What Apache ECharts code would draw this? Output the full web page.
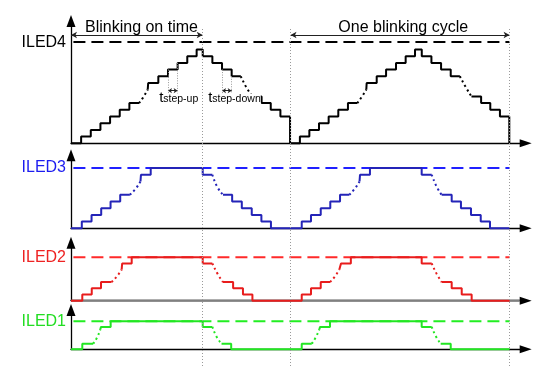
<!DOCTYPE html>
<html><head><meta charset="utf-8">
<script src="https://cdn.jsdelivr.net/npm/echarts@6/dist/echarts.min.js"></script>
<style>html,body{margin:0;padding:0;background:#fff}#c{width:547px;height:366px}</style>
</head><body><div id="c"></div>
<script>
// ---------- DATA (time in step units, level in step units) ----------
const channelNames = ['ILED4', 'ILED3', 'ILED2', 'ILED1'];
const fullLevels = [15.1, 9, 7, 5];
const markerTimes = [13.65, 22.75, 45.45]; // end of on-time, cycle start, cycle end

const iled4Solid = [
  [[0,0],[1.05,1],[2.05,2],[3.05,3],[4.05,4],[5.05,5],[6.05,6],[7.05,6]],
  [[7.95,8],[8,9],[9.05,10],[10.05,11],[11.05,12],[12.05,13],[13.02,14],[13.65,13],[14.65,12],[15.65,11],[16.65,10],[17.6,10]],
  [[18.77,7],[19.75,6],[20.7,5],[21.7,4],[22.7,0],[23.72,1],[24.7,2],[25.7,3],[26.7,4],[27.7,5],[28.7,6],[29.67,6]],
  [[30.6,8],[30.64,9],[31.68,10],[32.65,11],[33.68,12],[34.68,13],[35.65,14],[36.35,13],[37.35,12],[38.35,11],[39.35,10],[40.3,10]],
  [[41.5,7],[42.5,6],[43.45,5],[44.45,4],[45.42,0],[45.45,0]]
];
const iled4Dotted = [
  [[7.05,6],[7.5,6.9],[7.95,8]],
  [[17.6,10],[18.15,8.4],[18.77,7]],
  [[29.67,6],[30.12,6.9],[30.6,8]],
  [[40.3,10],[40.9,8.4],[41.5,7]]
];

const iled3Solid = [
  [[0,0],[1.12,1],[2.13,2],[3.13,3],[4.1,4],[5.1,5],[6.1,5]],
  [[7.2,7],[7.25,8],[8.26,9],[13.65,8],[14.65,8]],
  [[15.75,5],[16.7,4],[17.7,3],[18.73,2],[19.73,1],[20.72,0],[23.91,1],[24.87,2],[25.88,3],[26.87,4],[27.88,5],[28.84,5]],
  [[29.9,7],[29.95,8],[30.98,9],[36.34,8],[37.38,8]],
  [[38.41,5],[39.45,4],[40.41,3],[41.45,2],[42.46,1],[43.42,0],[45.45,0]]
];
const iled3Dotted = [
  [[6.1,5],[6.7,5.9],[7.2,7]],
  [[14.65,8],[15.15,6.2],[15.75,5]],
  [[28.84,5],[29.4,5.9],[29.9,7]],
  [[37.38,8],[37.9,6.2],[38.41,5]]
];

const iled2Solid = [
  [[0,0],[1.17,1],[2.15,2],[3.11,3],[4.2,3]],
  [[5.25,5],[5.3,6],[6.29,7],[13.65,6],[14.65,6]],
  [[15.75,3],[16.8,2],[17.82,1],[18.8,0],[23.91,1],[24.87,2],[25.88,3],[26.85,3]],
  [[27.8,5],[27.98,6],[29.0,7],[36.34,6],[37.38,6]],
  [[38.41,3],[39.45,2],[40.49,1],[41.52,0],[45.45,0]]
];
const iled2Dotted = [
  [[4.2,3],[4.75,3.9],[5.25,5]],
  [[14.65,6],[15.2,4.3],[15.75,3]],
  [[26.85,3],[27.35,3.9],[27.8,5]],
  [[37.38,6],[37.9,4.3],[38.41,3]]
];

const iled1Solid = [
  [[0,0],[1.17,1],[2.3,1]],
  [[3.05,3.6],[3.1,4],[4.11,5],[13.65,4],[14.65,4]],
  [[15.6,1],[16.6,0],[23.91,1],[24.95,1]],
  [[25.75,3.6],[25.8,4],[26.84,5],[36.34,4],[37.38,4]],
  [[38.31,1],[39.35,0],[45.45,0]]
];
const iled1Dotted = [
  [[2.3,1],[2.7,2.1],[3.05,3.6]],
  [[14.65,4],[15.1,2.2],[15.6,1]],
  [[24.95,1],[25.35,2.1],[25.75,3.6]],
  [[37.38,4],[37.85,2.2],[38.31,1]]
];

// ---------- LAYOUT / STYLE ----------
const FONT = '"Liberation Sans", Arial, Helvetica, sans-serif';
const xMax = 47.12;
const gridTops = [21, 155.3, 242.7, 310];
const gridHeights = [122.3, 73, 58, 39.3];
const yMaxes = [18.25, 10.9, 9.35, 7.02];
const signalColors = ['#000000', '#2424b8', '#e81c1c', '#22e622'];
const dashColors = ['#000000', '#2020ff', '#ff2a2a', '#22ee22'];
const labelColors = ['#000000', '#1c1cf0', '#ee2222', '#22dd22'];
const solidSets = [iled4Solid, iled3Solid, iled2Solid, iled1Solid];
const dottedSets = [iled4Dotted, iled3Dotted, iled2Dotted, iled1Dotted];

const grid = [], xAxis = [], yAxis = [], series = [];
for (let c = 0; c < 4; c++) {
  grid.push({left: 71, top: gridTops[c], width: 454.7, height: gridHeights[c]});
  xAxis.push({
    type: 'value', gridIndex: c, min: 0, max: xMax,
    axisLine: {show: true, onZero: false, symbol: ['none', 'triangle'], symbolSize: [8, 12],
      lineStyle: {color: '#000', width: 1.3}},
    axisTick: {show: false}, axisLabel: {show: false}, splitLine: {show: false}
  });
  yAxis.push({
    type: 'value', gridIndex: c, min: 0, max: yMaxes[c],
    axisLine: {show: true, onZero: false, symbol: ['none', 'triangle'], symbolSize: [9, 12],
      lineStyle: {color: '#000', width: 1.3}},
    axisTick: {show: false}, splitLine: {show: false},
    axisLabel: {show: true, customValues: [fullLevels[c]], formatter: () => channelNames[c],
      color: labelColors[c], fontSize: 16, fontFamily: FONT, margin: 5}
  });
  const common = {type: 'line', xAxisIndex: c, yAxisIndex: c, symbol: 'none', silent: true,
    animation: false, clip: false};
  // full-scale dashed line
  series.push(Object.assign({}, common, {
    data: [[0.25, fullLevels[c]], [markerTimes[2], fullLevels[c]]],
    lineStyle: {color: dashColors[c], width: 2, type: [12, 6]}, z: 2
  }));
  solidSets[c].forEach(d => series.push(Object.assign({}, common, {
    data: d, step: 'end', lineStyle: {color: signalColors[c], width: 2, type: 'solid'}, z: 4
  })));
  dottedSets[c].forEach(d => series.push(Object.assign({}, common, {
    data: d, smooth: 0.5, lineStyle: {color: signalColors[c], width: 2, type: [2, 3]}, z: 4
  })));
}
// gray baseline of ILED2 panel
series.push({type: 'line', xAxisIndex: 2, yAxisIndex: 2, symbol: 'none', silent: true, animation: false,
  clip: false, data: [[0, 0], [46.5, 0]], lineStyle: {color: '#808080', width: 2}, z: 3});

// annotation arrows in ILED4 panel
const annotLevel = 16.16, smallArrowLevel = 7.85;
series.push({type: 'line', xAxisIndex: 0, yAxisIndex: 0, symbol: 'none', data: [[0, 0]], silent: true,
  animation: false, lineStyle: {width: 0},
  markLine: {silent: true, animation: false, symbol: ['arrow', 'arrow'], symbolSize: [5, 6],
    label: {show: false}, lineStyle: {color: '#222', width: 1, type: 'solid'},
    data: [
      [{coord: [0, annotLevel]}, {coord: [markerTimes[0], annotLevel]}],
      [{coord: [markerTimes[1], annotLevel]}, {coord: [markerTimes[2], annotLevel]}]
    ]}});
series.push({type: 'line', xAxisIndex: 0, yAxisIndex: 0, symbol: 'none', data: [[0, 0]], silent: true,
  animation: false, lineStyle: {width: 0},
  markLine: {silent: true, animation: false, symbol: ['arrow', 'arrow'], symbolSize: [4, 4],
    label: {show: false}, lineStyle: {color: '#222', width: 1, type: 'solid'},
    data: [
      [{coord: [10.05, smallArrowLevel]}, {coord: [11.05, smallArrowLevel]}],
      [{coord: [15.65, smallArrowLevel]}, {coord: [16.65, smallArrowLevel]}]
    ]}});
series.push({type: 'line', xAxisIndex: 0, yAxisIndex: 0, symbol: 'none', data: [[0, 0]], silent: true,
  animation: false, lineStyle: {width: 0},
  markLine: {silent: true, animation: false, symbol: 'none', label: {show: false},
    lineStyle: {color: '#999', width: 1, type: [1, 1.5]},
    data: [
      [{coord: [10.05, 11]}, {coord: [10.05, 7.45]}],
      [{coord: [11.05, 12]}, {coord: [11.05, 7.45]}],
      [{coord: [15.65, 11]}, {coord: [15.65, 7.45]}],
      [{coord: [16.65, 10]}, {coord: [16.65, 7.45]}]
    ]}});

// overlay grid for the vertical dotted time markers
grid.push({left: 71, top: 28, width: 454.7, bottom: 0});
xAxis.push({type: 'value', gridIndex: 4, min: 0, max: xMax, show: false});
yAxis.push({type: 'value', gridIndex: 4, min: 0, max: 1, show: false});
series.push({type: 'line', xAxisIndex: 4, yAxisIndex: 4, symbol: 'none', data: [[0, 0]], silent: true,
  animation: false, lineStyle: {width: 0}, z: 1,
  markLine: {silent: true, animation: false, symbol: 'none', label: {show: false},
    lineStyle: {color: '#9a9a9a', width: 1, type: [1, 2]},
    data: markerTimes.map(t => ({xAxis: t}))}});

const chart = echarts.init(document.getElementById('c'));
chart.setOption({animation: false, backgroundColor: '#fff', grid, xAxis, yAxis, series});

// text annotations placed through the ILED4 panel's scales
const px = (t, l) => chart.convertToPixel({xAxisIndex: 0, yAxisIndex: 0}, [t, l]);
const texts = [
  {s: 'Blinking on time', at: [1.45, 17.21], size: 16, va: 'middle'},
  {s: 'One blinking cycle', at: [27.7, 17.21], size: 16, va: 'middle'},
  {s: 't', at: [9.15, 5.6], size: 15, va: 'bottom'},
  {s: 'step-up', at: [9.56, 5.73], size: 10.5, va: 'bottom'},
  {s: 't', at: [14.23, 5.6], size: 15, va: 'bottom'},
  {s: 'step-down', at: [14.64, 5.73], size: 10.5, va: 'bottom', bg: '#fff'}
];
chart.setOption({graphic: texts.map(o => {
  const p = px(o.at[0], o.at[1]);
  return {type: 'text', x: p[0], y: p[1], z: 100, silent: true,
    style: {text: o.s, fill: '#000', font: o.size + 'px ' + FONT, textAlign: 'left',
      textVerticalAlign: o.va, backgroundColor: o.bg || null}};
})});
</script>
</body></html>
